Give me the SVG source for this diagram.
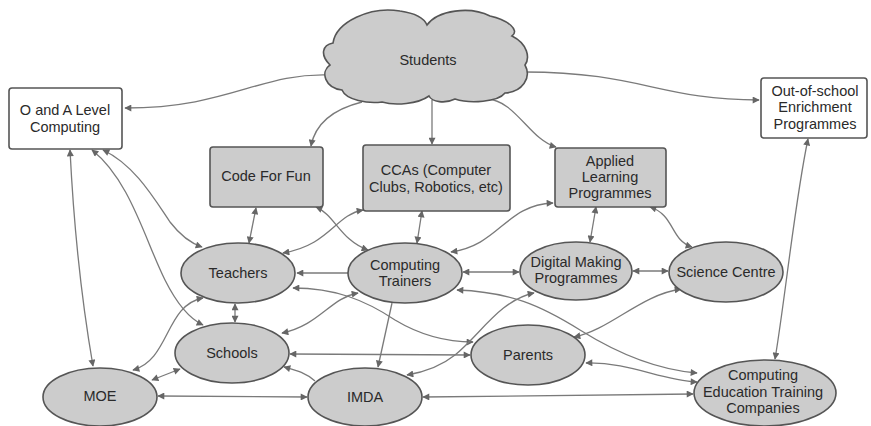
<svg xmlns="http://www.w3.org/2000/svg" width="871" height="426" viewBox="0 0 871 426">
<style>
.c{fill:none;stroke:#7a7a7a;stroke-width:1.3}
.n{fill:#cccccc;stroke:#555;stroke-width:1.6}
.w{fill:#ffffff;stroke:#555;stroke-width:1.6}
text{font-family:"Liberation Sans",Arial,sans-serif;font-size:14.5px;fill:#2a2a2a;text-anchor:middle}
</style>
<defs>
<marker id="ah" viewBox="0 0 10 10" refX="9" refY="5" markerWidth="8" markerHeight="7" markerUnits="userSpaceOnUse" orient="auto-start-reverse">
<path d="M0,0 L10,5 L0,10 z" fill="#666"/>
</marker>
</defs>
<rect width="871" height="426" fill="#ffffff"/>
<g id="connectors">
<path class="c" marker-end="url(#ah)" d="M331 75 C260 72,230 108,125 108"/>
<path class="c" marker-end="url(#ah)" d="M525 72 C640 72,660 100,759 100"/>
<path class="c" marker-end="url(#ah)" d="M362 102 C330 110,315 125,311 146"/>
<path class="c" marker-end="url(#ah)" d="M432 100 L432 144"/>
<path class="c" marker-end="url(#ah)" d="M487 99 C515 100,530 140,556 147"/>
<path class="c" marker-start="url(#ah)" marker-end="url(#ah)" d="M256 208 L249 243"/>
<path class="c" marker-start="url(#ah)" marker-end="url(#ah)" d="M422 211 L417 243"/>
<path class="c" marker-start="url(#ah)" marker-end="url(#ah)" d="M596 207 L590 242"/>
<path class="c" marker-start="url(#ah)" marker-end="url(#ah)" d="M650 207 C675 215,670 240,692 247"/>
<path class="c" marker-start="url(#ah)" marker-end="url(#ah)" d="M316 207 C335 215,340 240,368 250"/>
<path class="c" marker-start="url(#ah)" marker-end="url(#ah)" d="M363 210 C335 215,330 245,283 253"/>
<path class="c" marker-start="url(#ah)" marker-end="url(#ah)" d="M553 203 C505 205,500 245,451 252"/>
<path class="c" marker-end="url(#ah)" d="M348 273 L297 273"/>
<path class="c" marker-start="url(#ah)" marker-end="url(#ah)" d="M463 272 L519 272"/>
<path class="c" marker-start="url(#ah)" marker-end="url(#ah)" d="M633 271 L668 271"/>
<path class="c" marker-start="url(#ah)" marker-end="url(#ah)" d="M235 304 L235 322"/>
<path class="c" marker-start="url(#ah)" marker-end="url(#ah)" d="M70 150 C75 250,85 320,93 366"/>
<path class="c" marker-start="url(#ah)" marker-end="url(#ah)" d="M92 150 C130 180,145 240,165 280 C175 300,188 318,203 325"/>
<path class="c" marker-start="url(#ah)" marker-end="url(#ah)" d="M103 150 C135 165,155 200,170 222 C180 235,190 243,202 247"/>
<path class="c" marker-start="url(#ah)" marker-end="url(#ah)" d="M133 370 C170 360,165 305,203 298"/>
<path class="c" marker-start="url(#ah)" marker-end="url(#ah)" d="M152 380 L180 369"/>
<path class="c" marker-start="url(#ah)" marker-end="url(#ah)" d="M158 396 L307 397"/>
<path class="c" marker-start="url(#ah)" marker-end="url(#ah)" d="M423 397 L693 394"/>
<path class="c" marker-start="url(#ah)" marker-end="url(#ah)" d="M290 354 L470 355"/>
<path class="c" marker-end="url(#ah)" d="M315 381 C305 372,295 370,284 367"/>
<path class="c" marker-end="url(#ah)" d="M392 303 L378 367"/>
<path class="c" marker-start="url(#ah)" marker-end="url(#ah)" d="M358 293 C330 298,320 325,282 333"/>
<path class="c" marker-start="url(#ah)" marker-end="url(#ah)" d="M293 288 C335 288,365 300,395 320 C420 335,445 342,473 342"/>
<path class="c" marker-start="url(#ah)" marker-end="url(#ah)" d="M457 290 C510 292,540 305,580 330 C620 355,660 370,697 373"/>
<path class="c" marker-start="url(#ah)" marker-end="url(#ah)" d="M534 293 C500 300,480 335,455 355 C440 367,425 372,407 375"/>
<path class="c" marker-start="url(#ah)" marker-end="url(#ah)" d="M681 289 C640 295,610 330,574 337"/>
<path class="c" marker-start="url(#ah)" marker-end="url(#ah)" d="M586 363 C630 362,660 380,697 382"/>
<path class="c" marker-start="url(#ah)" marker-end="url(#ah)" d="M808 139 C795 200,785 300,775 359"/>
</g>
<g id="students">
<path class="n" d="M333 43 C336 22,370 6,400 11 C414 13,424 18,427 25 C438 10,470 6,490 16 C508 20,520 30,512 36 C528 44,530 58,525 65 C532 78,522 92,505 93 C498 102,470 104,455 99 C445 104,432 102,429 96 C418 104,395 106,382 102 C368 104,346 100,342 90 C325 88,320 72,330 65 C320 55,322 45,333 43 Z"/>
<text x="428" y="65">Students</text>
</g>
<g id="olevel">
<rect class="w" x="9" y="88" width="113" height="61" rx="3"/>
<text x="65" y="115">O and A Level</text>
<text x="65" y="132">Computing</text>
</g>
<g id="codeforfun">
<rect class="n" x="210" y="147" width="113" height="60" rx="3"/>
<text x="266" y="181">Code For Fun</text>
</g>
<g id="ccas">
<rect class="n" x="363" y="145" width="147" height="66" rx="3"/>
<text x="436" y="175">CCAs (Computer</text>
<text x="436" y="192">Clubs, Robotics, etc)</text>
</g>
<g id="applied">
<rect class="n" x="555" y="148" width="111" height="59" rx="3"/>
<text x="610" y="166">Applied</text>
<text x="610" y="182">Learning</text>
<text x="610" y="198">Programmes</text>
</g>
<g id="outofschool">
<rect class="w" x="761" y="78" width="106" height="60" rx="3"/>
<text x="815" y="96">Out-of-school</text>
<text x="815" y="112">Enrichment</text>
<text x="815" y="129">Programmes</text>
</g>
<g id="teachers">
<ellipse class="n" cx="238" cy="273" rx="57" ry="30"/>
<text x="238" y="278">Teachers</text>
</g>
<g id="trainers">
<ellipse class="n" cx="405" cy="273" rx="57" ry="30"/>
<text x="405" y="270">Computing</text>
<text x="405" y="286">Trainers</text>
</g>
<g id="digital">
<ellipse class="n" cx="576" cy="271" rx="56" ry="29"/>
<text x="576" y="267">Digital Making</text>
<text x="576" y="283">Programmes</text>
</g>
<g id="science">
<ellipse class="n" cx="726" cy="272" rx="57" ry="30"/>
<text x="726" y="277">Science Centre</text>
</g>
<g id="schools">
<ellipse class="n" cx="232" cy="353" rx="57" ry="30"/>
<text x="232" y="358">Schools</text>
</g>
<g id="parents">
<ellipse class="n" cx="528" cy="355" rx="57" ry="30"/>
<text x="528" y="360">Parents</text>
</g>
<g id="moe">
<ellipse class="n" cx="100" cy="397" rx="57" ry="29"/>
<text x="100" y="401">MOE</text>
</g>
<g id="imda">
<ellipse class="n" cx="365" cy="397" rx="57" ry="29"/>
<text x="365" y="402">IMDA</text>
</g>
<g id="cetc">
<ellipse class="n" cx="765" cy="393" rx="71" ry="33"/>
<text x="763" y="380">Computing</text>
<text x="763" y="397">Education Training</text>
<text x="763" y="413">Companies</text>
</g>
</svg>
